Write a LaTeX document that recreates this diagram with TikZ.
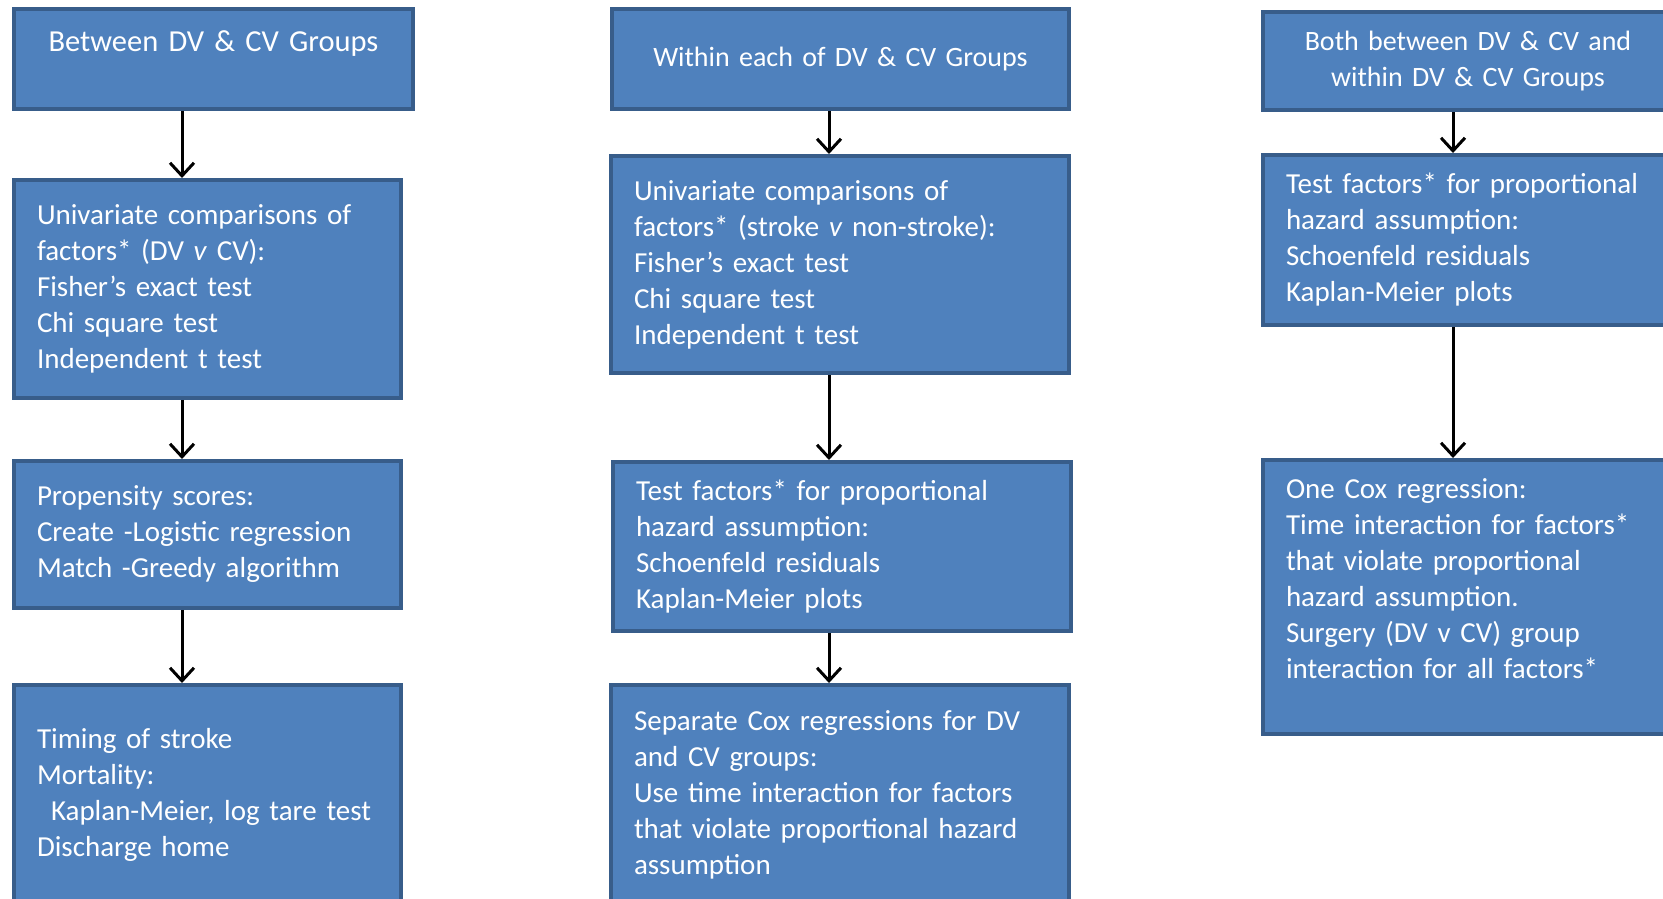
\documentclass[tikz,border=0pt]{standalone}
\usepackage{fontspec}
\setmainfont{Carlito}[WordSpace=0.72]
\usetikzlibrary{arrows.meta}
\definecolor{boxfill}{HTML}{4F81BD}
\definecolor{boxline}{HTML}{385D8A}
\tikzset{
  flowbox/.style={draw=boxline, fill=boxfill, line width=4pt, text=white, anchor=north west,
    inner xsep=23pt, inner ysep=0pt, align=left, font=\fontsize{29}{36}\selectfont},
  headbox/.style={flowbox, align=center, font=\fontsize{28}{36}\selectfont},
  flowarrow/.style={-{Straight Barb[length=13pt,width=24pt]}, line width=3pt}
}
\begin{document}
\begin{tikzpicture}[x=1pt,y=-1pt]
\useasboundingbox (0,0) rectangle (1663,898);
\clip (0,0) rectangle (1663,898);
\coordinate (colL) at (182,0);
\coordinate (colM) at (829,0);
\coordinate (colR) at (1453,0);

% between
\node[headbox, font=\fontsize{30.5}{36}\selectfont, text width=353pt, minimum height=100pt] (L1) at (12,7) {Between DV \& CV Groups\\ \mbox{}};
\node[flowbox, text width=341pt, minimum height=218pt] (L2) at (12,178) {Univariate comparisons of\\factors* (DV \textit{v} CV):\\Fisher’s exact test\\Chi square test\\Independent t test};
\node[flowbox, text width=341pt, minimum height=147pt] (L3) at (12,459) {Propensity scores:\\Create -Logistic regression\\Match -Greedy algorithm};
\node[flowbox, text width=341pt, minimum height=220pt] (L4) at (12,683) {Timing of stroke\\Mortality:\\\hspace*{14pt}Kaplan-Meier, log tare test\\Discharge home};

% within
\node[headbox, text width=411pt, minimum height=100pt] (M1) at (610,7) {Within each of DV \& CV Groups};
\node[flowbox, text width=412pt, minimum height=217pt] (M2) at (609,154) {Univariate comparisons of\\factors* (stroke \textit{v} non-stroke):\\Fisher’s exact test\\Chi square test\\Independent t test};
\node[flowbox, text width=412pt, minimum height=169pt] (M3) at (611,460) {Test factors* for proportional\\hazard assumption:\\Schoenfeld residuals\\Kaplan-Meier plots};
\node[flowbox, text width=412pt, minimum height=220pt] (M4) at (609,683) {Separate Cox regressions for DV\\and CV groups:\\Use time interaction for factors\\that violate proportional hazard\\assumption};

% both
\node[headbox, text width=364pt, minimum height=98pt] (R1) at (1261,10) {Both between DV \& CV and\\within DV \& CV Groups};
\node[flowbox, text width=364pt, minimum height=170pt] (R2) at (1261,153) {Test factors* for proportional\\hazard assumption:\\Schoenfeld residuals\\Kaplan-Meier plots};
\node[flowbox, text width=364pt, minimum height=274pt] (R3) at (1261,458) {One Cox regression:\\Time interaction for factors*\\that violate proportional\\hazard assumption.\\Surgery (DV v CV) group\\interaction for all factors*\\ \mbox{}};

% edges
\draw[flowarrow] (L1.south -| colL) -- (L2.north -| colL);
\draw[flowarrow] (L2.south -| colL) -- (L3.north -| colL);
\draw[flowarrow] (L3.south -| colL) -- (L4.north -| colL);
\draw[flowarrow] (M1.south -| colM) -- (M2.north -| colM);
\draw[flowarrow] (M2.south -| colM) -- (M3.north -| colM);
\draw[flowarrow] (M3.south -| colM) -- (M4.north -| colM);
\draw[flowarrow] (R1.south -| colR) -- (R2.north -| colR);
\draw[flowarrow] (R2.south -| colR) -- (R3.north -| colR);
\end{tikzpicture}
\end{document}
